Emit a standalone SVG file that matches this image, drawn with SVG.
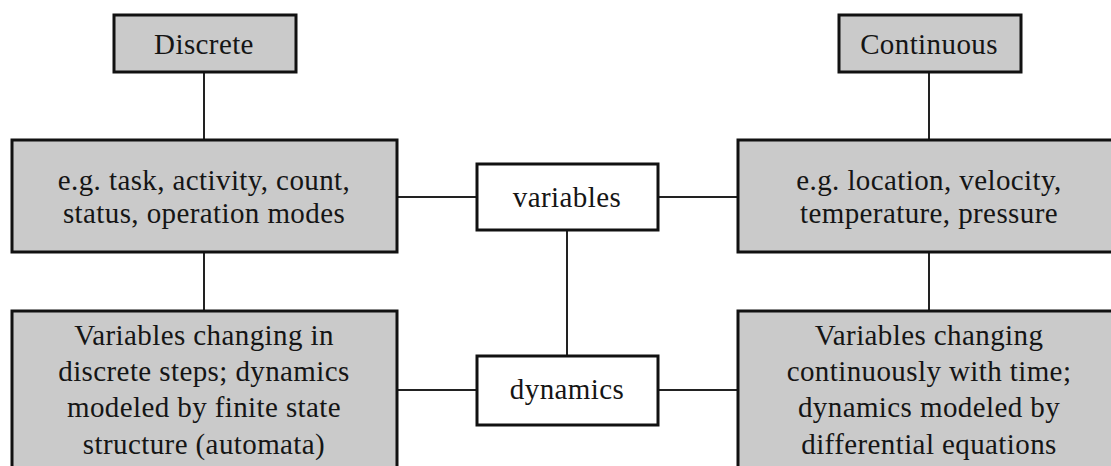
<svg xmlns="http://www.w3.org/2000/svg" width="1111" height="466" viewBox="0 0 1111 466">
  <style>
    .box { fill: #cacaca; stroke: #111; stroke-width: 3; }
    .hub { fill: #ffffff; stroke: #111; stroke-width: 3; }
    .link { stroke: #222; stroke-width: 2; fill: none; }
    text { font-family: "Liberation Serif", "Times New Roman", serif; font-size: 29px; letter-spacing: 0.4px; fill: #151515; text-anchor: middle; }
  </style>
  <rect width="1111" height="466" fill="#ffffff"/>

  <g id="connectors">
    <line class="link" x1="204" y1="72" x2="204" y2="139"/>
    <line class="link" x1="204" y1="252" x2="204" y2="310"/>
    <line class="link" x1="929" y1="72" x2="929" y2="139"/>
    <line class="link" x1="929" y1="252" x2="929" y2="310"/>
    <line class="link" x1="397" y1="197" x2="476" y2="197"/>
    <line class="link" x1="658" y1="197" x2="737" y2="197"/>
    <line class="link" x1="397" y1="390" x2="476" y2="390"/>
    <line class="link" x1="658" y1="390" x2="737" y2="390"/>
    <line class="link" x1="567" y1="230" x2="567" y2="355"/>
  </g>

  <g id="discrete">
    <rect class="box" x="114" y="15" width="182" height="57"/>
    <text x="204" y="54">Discrete</text>
  </g>

  <g id="continuous">
    <rect class="box" x="839" y="15" width="182" height="57"/>
    <text x="929" y="54">Continuous</text>
  </g>

  <g id="discrete-variables">
    <rect class="box" x="12" y="140" width="385" height="112"/>
    <text x="204" y="190">e.g. task, activity, count,</text>
    <text x="204" y="223">status, operation modes</text>
  </g>

  <g id="continuous-variables">
    <rect class="box" x="738" y="140" width="385" height="112"/>
    <text x="929" y="190">e.g. location, velocity,</text>
    <text x="929" y="223">temperature, pressure</text>
  </g>

  <g id="variables">
    <rect class="hub" x="477" y="164" width="181" height="66"/>
    <text x="567" y="207">variables</text>
  </g>

  <g id="dynamics">
    <rect class="hub" x="477" y="356" width="181" height="69"/>
    <text x="567" y="399">dynamics</text>
  </g>

  <g id="discrete-dynamics">
    <rect class="box" x="12" y="311" width="385" height="170"/>
    <text x="204" y="345">Variables changing in</text>
    <text x="204" y="381">discrete steps; dynamics</text>
    <text x="204" y="417">modeled by finite state</text>
    <text x="204" y="454">structure (automata)</text>
  </g>

  <g id="continuous-dynamics">
    <rect class="box" x="738" y="311" width="385" height="170"/>
    <text x="929" y="345">Variables changing</text>
    <text x="929" y="381">continuously with time;</text>
    <text x="929" y="417">dynamics modeled by</text>
    <text x="929" y="454">differential equations</text>
  </g>
</svg>
